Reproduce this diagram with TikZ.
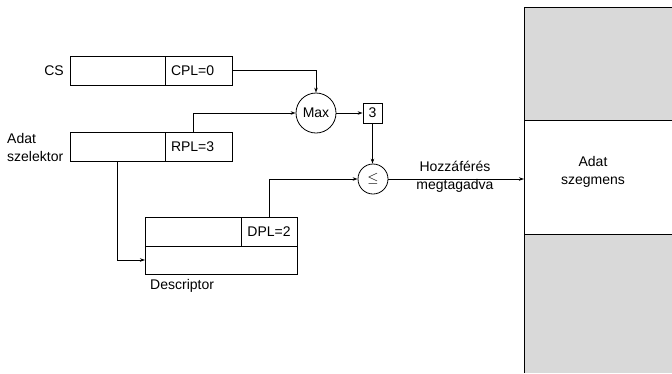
\documentclass[tikz,border=0pt]{standalone}
\usepackage{fontspec}
\setmainfont{Liberation Sans}
\usetikzlibrary{arrows.meta,calc}
\begin{document}
\begin{tikzpicture}[x=1pt,y=-1pt,
  every node/.style={font=\fontsize{14}{18}\selectfont},
  cell/.style={draw, line width=0.8pt, minimum height=29pt, inner sep=0pt, outer sep=0pt, anchor=north west},
  lcell/.style={cell, align=left, inner xsep=6pt},
  op/.style={draw, circle, line width=0.8pt, inner sep=0pt},
  wire/.style={line width=0.8pt},
  arr/.style={wire, -{Stealth[length=5pt,width=3.5pt]}},
  txt/.style={inner sep=0pt}]
\useasboundingbox (0,0) rectangle (672,373);

% memory segment column on the right
\fill[black!15] (524,7) rectangle (672,120);
\fill[black!15] (524,234) rectangle (672,373);
\draw[wire] (672,7) -- (524,7) -- (524,373);
\draw[wire] (524,120) -- (672,120);
\draw[wire] (524,234) -- (672,234);
\node[txt, align=center] (seg) at (593,172) {Adat\\szegmens};
\coordinate (segL) at (524,177);

% code segment register
\node[cell, minimum width=95pt] (csA) at (70,56) {};
\node[lcell, text width=55pt] (cpl) at (165,56) {CPL=0};
\node[txt, anchor=east] (csL) at (64,71) {CS};

% data segment selector
\node[cell, minimum width=95pt] (selA) at (70,132) {};
\node[lcell, text width=55pt] (rpl) at (165,132) {RPL=3};
\node[txt, align=left, anchor=west] (selL) at (7,147) {Adat\\szelektor};

% descriptor
\node[cell, minimum width=96pt] (descA) at (145,217) {};
\node[cell, minimum width=56pt] (dpl) at (241,217) {DPL=2};
\node[cell, minimum width=152pt, minimum height=28pt] (descB) at (145,246) {};
\node[txt, anchor=base west] (descL) at (150,289) {Descriptor};

% comparison logic
\node[op, minimum size=40pt] (max) at (316,113) {Max};
\node[draw, line width=0.8pt, minimum width=19pt, minimum height=20pt, inner sep=0pt] (three) at (372.5,113) {3};
\node[op, minimum size=30pt] (le) at (373,179) {$\leq$};
\node[txt, align=center] (deny) at (455,177) {Hozzáférés\\megtagadva};

% connectors
\draw[arr] (cpl.east) -| (max.north);
\draw[arr] ($(rpl.north west)+(28,0)$) |- (max.west);
\draw[arr] (max.east) -- (three.west);
\draw[arr] (three.south) -- (three.south |- le.north);
\draw[arr] (dpl.north) |- (le.west);
\draw[arr] ($(selA.south west)+(47,0)$) |- (descB.west);
\draw[arr] (le.east) -- (le.east -| segL);
\end{tikzpicture}
\end{document}
